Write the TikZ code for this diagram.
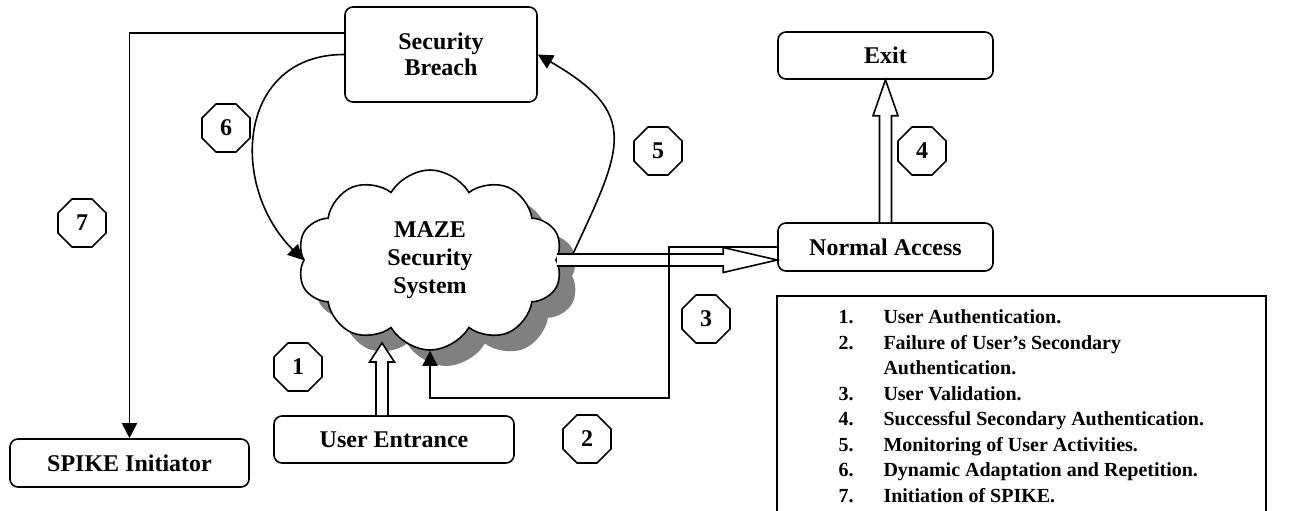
\documentclass[tikz,border=0pt]{standalone}
\usepackage{fontspec}
\setmainfont{Liberation Serif}
\usetikzlibrary{shapes.symbols,shapes.geometric,shadows,arrows.meta,calc}

\tikzset{
  box/.style={draw, thick, rounded corners=4pt, align=center, font=\fontsize{12}{13}\selectfont\bfseries},
  octo/.style={draw, thick, regular polygon, regular polygon sides=8, minimum size=26pt, inner sep=0pt, font=\fontsize{12}{13}\selectfont\bfseries},
  maze/.style={cloud, cloud puffs=10, cloud puff arc=120, draw, thick, fill=white, minimum width=132.5pt, minimum height=90pt, align=center, font=\fontsize{12}{14}\selectfont\bfseries, drop shadow={shadow xshift=8pt, shadow yshift=-8pt, fill=black!50, opacity=1}},
  link/.style={thick, -{Triangle[length=7.5pt, width=7.5pt]}},
  hollow/.style={thick, fill=white, to path={
    let \p1=($(\tikztotarget)!#1!(\tikztostart)$) in
    ($(\tikztostart)!3pt!90:(\tikztotarget)$) -- ($(\p1)!3pt!90:(\tikztotarget)$)
    -- ($(\p1)!6.25pt!90:(\tikztotarget)$) -- (\tikztotarget)
    -- ($(\p1)!6.25pt!-90:(\tikztotarget)$) -- ($(\p1)!3pt!-90:(\tikztotarget)$)
    -- ($(\tikztostart)!3pt!-90:(\tikztotarget)$)}}
}

\begin{document}
\begin{tikzpicture}[x=0.5pt, y=0.5pt]
  \useasboundingbox (0,0) rectangle (1314,510);

  \begin{scope}[every node/.style={box}]
    \node [minimum width=96pt, minimum height=47.5pt] (breach) at (441,455.5) {Security\\Breach};
    \node [minimum width=107.5pt, minimum height=23.5pt] (exit) at (885.5,454.5) {Exit};
    \node [minimum width=107.5pt, minimum height=24pt] (access) at (885.5,263) {Normal Access};
    \node [minimum width=119.5pt, minimum height=24pt] (spike) at (129.5,47) {SPIKE Initiator};
    \node [minimum width=120pt, minimum height=23.5pt] (entrance) at (394,70.5) {User Entrance};
  \end{scope}

  \node [maze] (system) at (430,250) {MAZE\\Security\\System};

  \coordinate (tip1) at (382,167);
  \coordinate (turn) at (669,112);
  \coordinate (mon) at ([shift={(16,6)}]system.east);
  \coordinate (acc) at (system.east -| access.west);

  % hollow arrows
  \draw [hollow=9.5pt] ([xshift=-6pt]entrance.north) to (tip1);
  \draw [hollow=27pt] (system.east) to (acc);
  \draw [hollow=18pt] (access.north) to (exit.south);

  % plain connectors
  \draw [link] (access.west) -| (turn) -| (system.south);
  \draw [link] (breach.west) to [out=180, in=135, looseness=1.3] (system.west);
  \draw [link] (mon) to [out=65, in=-30, looseness=1.5] (breach.east);
  \draw [link] ([yshift=10.75pt]breach.west) -| (spike.north);

  \begin{scope}[every node/.style={octo}]
    \node (n1) at (298,143) {1};
    \node (n2) at (587,71) {2};
    \node (n3) at (706,191) {3};
    \node (n4) at (922,359) {4};
    \node (n5) at (658,359) {5};
    \node (n6) at (226,382) {6};
    \node (n7) at (82,287) {7};
  \end{scope}

  \node [draw, thick, anchor=north west, minimum width=244.5pt, minimum height=112pt, font=\fontsize{10}{12.75}\selectfont\bfseries] (legend) at (776,215) {%
    \begin{tabular}{@{}p{22.5pt}@{}l@{}}
      1. & User Authentication.\\
      2. & Failure of User’s Secondary\\
         & Authentication.\\
      3. & User Validation.\\
      4. & Successful Secondary Authentication.\\
      5. & Monitoring of User Activities.\\
      6. & Dynamic Adaptation and Repetition.\\
      7. & Initiation of SPIKE.
    \end{tabular}};
\end{tikzpicture}
\end{document}
